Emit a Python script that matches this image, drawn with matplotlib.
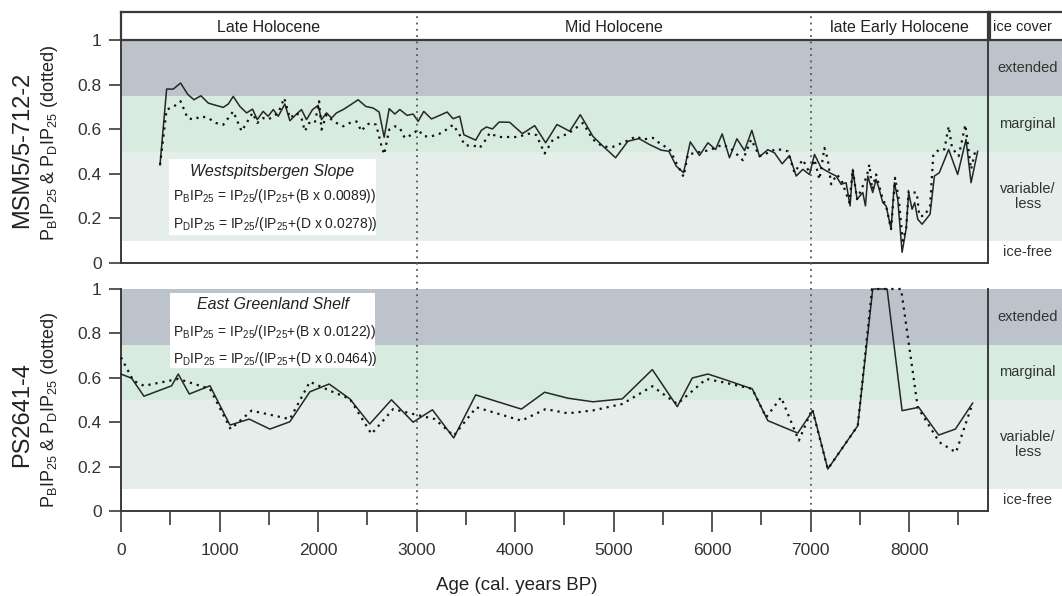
import matplotlib
matplotlib.use('Agg')
import matplotlib.pyplot as plt
from matplotlib.patches import Rectangle
from matplotlib.ticker import MultipleLocator

plt.rcParams['font.family'] = 'Liberation Sans'
plt.rcParams['mathtext.fontset'] = 'custom'
plt.rcParams['mathtext.rm'] = 'Liberation Sans'
plt.rcParams['mathtext.it'] = 'Liberation Sans:italic'

# MSM5/5-712-2 (Westspitsbergen Slope), PBIP25 solid
msm_age_b = [396, 463, 531, 605, 676, 740, 811, 886, 963, 1038, 1089, 1139, 1207, 1275,
             1335, 1383, 1443, 1494, 1545, 1596, 1663, 1714, 1782, 1832, 1883, 1944, 2001,
             2035, 2086, 2137, 2187, 2255, 2322, 2407, 2485, 2559, 2620, 2671, 2722, 2779,
             2830, 2904, 2965, 3016, 3073, 3151, 3235, 3310, 3371, 3438, 3480, 3600, 3658,
             3709, 3770, 3837, 3945, 4074, 4199, 4310, 4425, 4554, 4662, 4790, 4892, 5020,
             5145, 5257, 5365, 5484, 5561, 5636, 5710, 5778, 5872, 5957, 6035, 6102, 6176,
             6251, 6329, 6403, 6481, 6565, 6633, 6711, 6785, 6853, 6920, 6988, 7039, 7106,
             7191, 7259, 7309, 7360, 7400, 7427, 7471, 7529, 7556, 7580, 7630, 7664, 7691,
             7732, 7766, 7816, 7850, 7884, 7928, 7969, 7995, 8029, 8056, 8087, 8131, 8171,
             8212, 8256, 8306, 8401, 8492, 8577, 8628, 8695]
msm_pbip = [0.44, 0.78, 0.78, 0.807, 0.757, 0.732, 0.75, 0.717, 0.707, 0.698, 0.713, 0.747,
            0.702, 0.673, 0.69, 0.643, 0.68, 0.658, 0.688, 0.658, 0.713, 0.638, 0.668, 0.688,
            0.643, 0.688, 0.707, 0.643, 0.673, 0.65, 0.673, 0.688, 0.707, 0.732, 0.702, 0.695,
            0.677, 0.564, 0.692, 0.668, 0.688, 0.662, 0.668, 0.635, 0.68, 0.646, 0.662, 0.677,
            0.647, 0.658, 0.575, 0.551, 0.595, 0.61, 0.601, 0.632, 0.631, 0.58, 0.616, 0.539,
            0.621, 0.591, 0.665, 0.568, 0.524, 0.472, 0.546, 0.558, 0.531, 0.506, 0.501,
            0.434, 0.405, 0.543, 0.482, 0.539, 0.509, 0.579, 0.472, 0.557, 0.504, 0.595,
            0.477, 0.508, 0.494, 0.445, 0.482, 0.39, 0.42, 0.397, 0.487, 0.427, 0.405, 0.39,
            0.353, 0.36, 0.256, 0.42, 0.286, 0.316, 0.256, 0.39, 0.316, 0.375, 0.338, 0.271,
            0.256, 0.152, 0.36, 0.286, 0.048, 0.152, 0.316, 0.241, 0.271, 0.196, 0.174, 0.196,
            0.219, 0.39, 0.405, 0.509, 0.397, 0.554, 0.36, 0.501]

# MSM5/5-712-2, PDIP25 dotted
msm_age_d = [396, 463, 531, 605, 676, 740, 811, 886, 963, 1038, 1139, 1224, 1275, 1335,
             1383, 1443, 1494, 1545, 1596, 1657, 1714, 1782, 1832, 1866, 1910, 1967, 2011,
             2035, 2086, 2137, 2187, 2255, 2322, 2390, 2441, 2490, 2540, 2590, 2644, 2671,
             2722, 2779, 2830, 2880, 2950, 3016, 3073, 3151, 3235, 3310, 3371, 3438, 3489,
             3607, 3641, 3709, 3742, 3827, 3912, 4030, 4131, 4216, 4300, 4385, 4537, 4689,
             4790, 4892, 4993, 5129, 5230, 5298, 5399, 5484, 5568, 5636, 5710, 5754, 5872,
             5973, 6108, 6193, 6312, 6396, 6481, 6565, 6650, 6768, 6836, 6920, 6988, 7039,
             7089, 7140, 7174, 7208, 7265, 7309, 7394, 7427, 7471, 7529, 7570, 7596, 7624,
             7664, 7732, 7766, 7816, 7857, 7894, 7934, 7969, 7995, 8043, 8077, 8103, 8154,
             8212, 8245, 8306, 8357, 8401, 8435, 8502, 8570, 8628, 8678]
msm_pdip = [0.44, 0.688, 0.70, 0.725, 0.65, 0.643, 0.658, 0.65, 0.628, 0.62, 0.68, 0.591,
            0.628, 0.673, 0.628, 0.65, 0.643, 0.658, 0.673, 0.74, 0.65, 0.673, 0.65, 0.591,
            0.628, 0.628, 0.725, 0.598, 0.665, 0.643, 0.628, 0.613, 0.628, 0.635, 0.591, 0.62,
            0.628, 0.62, 0.524, 0.487, 0.598, 0.613, 0.605, 0.561, 0.575, 0.598, 0.568, 0.568,
            0.58, 0.60, 0.62, 0.574, 0.528, 0.524, 0.516, 0.557, 0.583, 0.565, 0.565, 0.565,
            0.58, 0.574, 0.491, 0.554, 0.58, 0.628, 0.554, 0.521, 0.521, 0.546, 0.568, 0.554,
            0.561, 0.531, 0.512, 0.449, 0.387, 0.487, 0.497, 0.506, 0.531, 0.512, 0.461, 0.554,
            0.479, 0.494, 0.512, 0.501, 0.405, 0.464, 0.405, 0.464, 0.375, 0.516, 0.464, 0.353,
            0.397, 0.375, 0.271, 0.42, 0.286, 0.345, 0.39, 0.442, 0.33, 0.397, 0.286, 0.256,
            0.152, 0.382, 0.286, 0.10, 0.152, 0.323, 0.316, 0.316, 0.211, 0.211, 0.256, 0.487,
            0.509, 0.509, 0.613, 0.516, 0.479, 0.62, 0.42, 0.516]

# PS2641-4 (East Greenland Shelf)
ps_age_b = [0, 108, 233, 514, 581, 693, 903, 1106, 1301, 1511, 1714, 1917, 2113, 2323, 2525,
            2745, 2965, 3161, 3377, 3600, 4064, 4300, 4537, 4790, 5088, 5393, 5646, 5798,
            5957, 6109, 6407, 6565, 6869, 7022, 7174, 7478, 7630, 7776, 7928, 8097, 8299,
            8469, 8644]
ps_pbip = [0.617, 0.598, 0.517, 0.564, 0.617, 0.527, 0.564, 0.387, 0.414, 0.369, 0.402,
           0.537, 0.572, 0.505, 0.392, 0.501, 0.40, 0.456, 0.329, 0.523, 0.459, 0.535, 0.508,
           0.492, 0.505, 0.637, 0.47, 0.599, 0.617, 0.595, 0.55, 0.407, 0.351, 0.452, 0.189,
           0.384, 1.0, 1.0, 0.452, 0.467, 0.342, 0.369, 0.486]
ps_age_d = [0, 125, 233, 581, 903, 1113, 1325, 1714, 1917, 2120, 2323, 2542, 2762, 2965,
            3185, 3377, 3607, 4064, 4310, 4537, 4790, 5088, 5393, 5646, 5940, 6109, 6407,
            6548, 6700, 6880, 7015, 7174, 7478, 7623, 7918, 8087, 8306, 8475, 8644]
ps_pdip = [0.692, 0.587, 0.564, 0.595, 0.55, 0.369, 0.452, 0.414, 0.582, 0.542, 0.505,
           0.347, 0.459, 0.437, 0.414, 0.339, 0.467, 0.407, 0.459, 0.44, 0.453, 0.482, 0.562,
           0.482, 0.595, 0.58, 0.55, 0.422, 0.512, 0.317, 0.459, 0.189, 0.384, 1.0, 1.0,
           0.467, 0.31, 0.264, 0.486]

periods = ['Late Holocene', 'Mid Holocene', 'late Early Holocene']
period_bounds = [0, 3000, 7000, 8800]
zones = ['extended', 'marginal', 'variable/\nless', 'ice-free']
zone_lo = [0.75, 0.5, 0.1, 0.0]
zone_hi = [1.0, 0.75, 0.5, 0.1]
zone_label_y = [0.875, 0.625, 0.3, 0.05]
zone_colors = ['#bcc3ca', '#d8ebe0', '#e5eeea', '#ffffff']

W, H = 1062, 596
fig = plt.figure(figsize=(W / 100, H / 100), dpi=100)


def fr(x0, y0, x1, y1):
    # pixel box -> figure fraction rect
    return [x0 / W, 1 - y1 / H, (x1 - x0) / W, (y1 - y0) / H]


spine_c = '#3a3a3a'
ink = '#262626'


def draw_bands(ax):
    for lo, hi, c in zip(zone_lo, zone_hi, zone_colors):
        ax.axhspan(lo, hi, color=c, lw=0, zorder=0)


def panel(rect, ages_b, vals_b, ages_d, vals_d, col_rect, top_spine):
    col = fig.add_axes(col_rect)
    col.set_xlim(0, 1)
    col.set_ylim(0, 1)
    draw_bands(col)
    for z, yy in zip(zones, zone_label_y):
        col.text(0.53, yy, z, ha='center', va='center', fontsize=10.5, color='#333333',
                 linespacing=1.1)
    col.axis('off')

    ax = fig.add_axes(rect)
    draw_bands(ax)
    ax.plot(ages_b, vals_b, '-', color=ink, lw=1.1, clip_on=False, zorder=3)
    ax.plot(ages_d, vals_d, linestyle=(0, (1, 2.2)), color='#111111', lw=1.6,
            clip_on=False, zorder=3)
    ax.set_xlim(0, 8800)
    ax.set_ylim(0, 1)
    ax.set_yticks([0, 0.2, 0.4, 0.6, 0.8, 1])
    ax.set_yticklabels(['0', '0.2', '0.4', '0.6', '0.8', '1'])
    ax.xaxis.set_major_locator(MultipleLocator(1000))
    ax.xaxis.set_minor_locator(MultipleLocator(500))
    ax.tick_params(axis='y', direction='out', length=9, width=1.2, color=spine_c,
                   labelsize=12.5, labelcolor='#333333', pad=5)
    for s in ax.spines.values():
        s.set_color(spine_c)
        s.set_linewidth(1.4)
    ax.spines['top'].set_visible(top_spine)
    return ax


ax1 = panel(fr(121, 40, 988, 263), msm_age_b, msm_pbip, msm_age_d, msm_pdip,
            fr(989, 40, 1062, 263), True)
ax1.tick_params(axis='x', which='both', bottom=False, labelbottom=False)

ax2 = panel(fr(121, 289, 988, 511), ps_age_b, ps_pbip, ps_age_d, ps_pdip,
            fr(989, 289, 1062, 511), False)
ax2.tick_params(axis='x', which='major', direction='out', length=15, width=1.2,
                color=spine_c, labelsize=12.5, labelcolor='#333333', pad=8)
ax2.tick_params(axis='x', which='minor', direction='out', length=10, width=1.2,
                color=spine_c)
ax2.set_xticks(range(0, 9000, 1000))
ax2.set_xticklabels([str(v) for v in range(0, 9000, 1000)])

# formula boxes
sub = r'$_\mathregular{%s}$'
f_b = 'P' + sub % 'B' + 'IP' + sub % '25' + ' = IP' + sub % '25' + '/(IP' + sub % '25' + '+(B x %s))'
f_d = 'P' + sub % 'D' + 'IP' + sub % '25' + ' = IP' + sub % '25' + '/(IP' + sub % '25' + '+(D x %s))'

ax1.add_patch(Rectangle((0.055, 0.124), 0.239, 0.341, transform=ax1.transAxes,
                        facecolor='white', edgecolor='none', zorder=4))
ax1.text(0.174, 0.41, 'Westspitsbergen Slope', transform=ax1.transAxes, ha='center',
         va='center', fontsize=11.5, style='italic', color='#222222', zorder=5)
ax1.text(0.06, 0.30, f_b % '0.0089', transform=ax1.transAxes, ha='left', va='center',
         fontsize=10, color='#222222', zorder=5)
ax1.text(0.06, 0.175, f_d % '0.0278', transform=ax1.transAxes, ha='left', va='center',
         fontsize=10, color='#222222', zorder=5)

ax2.add_patch(Rectangle((0.057, 0.643), 0.236, 0.339, transform=ax2.transAxes,
                        facecolor='white', edgecolor='none', zorder=4))
ax2.text(0.175, 0.93, 'East Greenland Shelf', transform=ax2.transAxes, ha='center',
         va='center', fontsize=11.5, style='italic', color='#222222', zorder=5)
ax2.text(0.06, 0.805, f_b % '0.0122', transform=ax2.transAxes, ha='left', va='center',
         fontsize=10, color='#222222', zorder=5)
ax2.text(0.06, 0.685, f_d % '0.0464', transform=ax2.transAxes, ha='left', va='center',
         fontsize=10, color='#222222', zorder=5)

# header with periods
hdr = fig.add_axes(fr(121, 12, 988, 40))
hdr.set_xlim(0, 8800)
hdr.set_ylim(0, 1)
hdr.set_xticks([])
hdr.set_yticks([])
for s in hdr.spines.values():
    s.set_color(spine_c)
    s.set_linewidth(1.6)
for name, a, b in zip(periods, period_bounds[:-1], period_bounds[1:]):
    hdr.text((a + b) / 2, 0.45, name, ha='center', va='center', fontsize=11.5,
             color='#222222')

ice = fig.add_axes(fr(990, 12, 1070, 40))
ice.set_xticks([])
ice.set_yticks([])
for s in ice.spines.values():
    s.set_color(spine_c)
    s.set_linewidth(1.6)
ice.text(0.04, 0.45, 'ice cover', transform=ice.transAxes, ha='left', va='center',
         fontsize=10.5, color='#222222')

# period boundaries across header and both panels
ov = fig.add_axes(fr(121, 12, 988, 511))
ov.set_xlim(0, 8800)
ov.set_ylim(0, 1)
ov.axis('off')
for xb in period_bounds[1:-1]:
    ov.axvline(xb, color='#555555', lw=1.3, linestyle=(0, (1, 2.5)))

# axis labels
fig.text(22 / W, 1 - 150 / H, 'MSM5/5-712-2', rotation=90, ha='center', va='center',
         fontsize=17, color='#222222')
fig.text(22 / W, 1 - 415 / H, 'PS2641-4', rotation=90, ha='center', va='center',
         fontsize=17, color='#222222')
ylab = 'P' + sub % 'B' + 'IP' + sub % '25' + ' & P' + sub % 'D' + 'IP' + sub % '25' + ' (dotted)'
fig.text(50 / W, 1 - 143 / H, ylab, rotation=90, ha='center', va='center',
         fontsize=13, color='#222222')
fig.text(50 / W, 1 - 410 / H, ylab, rotation=90, ha='center', va='center',
         fontsize=13, color='#222222')
fig.text(517 / W, 1 - 585 / H, 'Age (cal. years BP)', ha='center', va='center',
         fontsize=13.5, color='#222222')

fig.savefig('out.png', dpi=100)
